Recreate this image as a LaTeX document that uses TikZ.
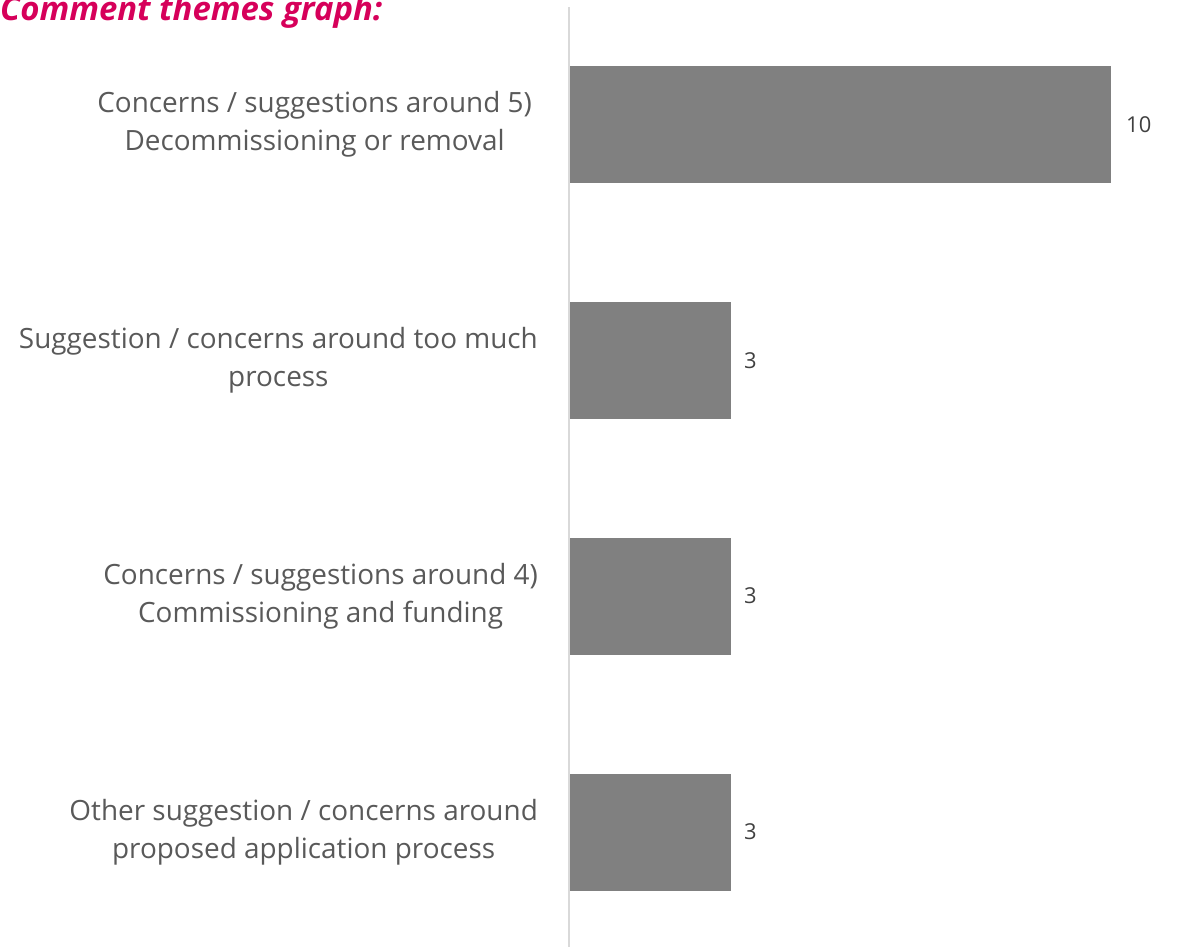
\documentclass[tikz,border=0pt]{standalone}
\usepackage{fontspec}
\setmainfont{Open Sans}
\definecolor{titlecol}{RGB}{214,0,90}
\definecolor{labelcol}{RGB}{89,89,89}
\definecolor{valcol}{RGB}{64,64,64}
\definecolor{barcol}{RGB}{128,128,128}
\definecolor{axiscol}{RGB}{217,217,217}
\tikzset{
  bar/.style={fill=barcol, draw=none, anchor=west, inner sep=0pt, outer sep=0pt, minimum height=117bp},
  cat/.style={anchor=east, align=center, text=labelcol, font=\fontsize{28}{38}\selectfont, inner sep=0pt},
  val/.style={anchor=west, text=valcol, font=\fontsize{22}{24}\selectfont, inner sep=0pt},
  ttl/.style={anchor=base west, text=titlecol, font=\fontsize{33}{38}\selectfont\bfseries\itshape, inner sep=0pt}
}
\begin{document}
\begin{tikzpicture}[x=1bp,y=-1bp]
\useasboundingbox (0,0) rectangle (1183,947);
\node[ttl] (title) at (0,20) {Comment themes graph:};
\coordinate (axtop) at (569,7);
\coordinate (axbot) at (569,947);
\draw[axiscol, line width=2bp] (axtop) -- (axbot);
% bars
\node[bar, minimum width=541bp] (b1) at (570,124.5) {};
\node[bar, minimum width=161bp] (b2) at (570,360.5) {};
\node[bar, minimum width=161bp] (b3) at (570,596) {};
\node[bar, minimum width=161bp] (b4) at (570,832) {};
% values
\node[val, xshift=15bp] (v1) at (b1.east) {10};
\node[val, xshift=13bp] (v2) at (b2.east) {3};
\node[val, xshift=13bp] (v3) at (b3.east) {3};
\node[val, xshift=13bp] (v4) at (b4.east) {3};
% categories
\node[cat] (c1) at (532,124.5) {Concerns / suggestions around 5)\\Decommissioning or removal};
\node[cat] (c2) at (538,360.5) {Suggestion / concerns around too much\\process};
\node[cat] (c3) at (538,596) {Concerns / suggestions around 4)\\Commissioning and funding};
\node[cat] (c4) at (538,832) {Other suggestion / concerns around\\proposed application process};
\end{tikzpicture}
\end{document}
